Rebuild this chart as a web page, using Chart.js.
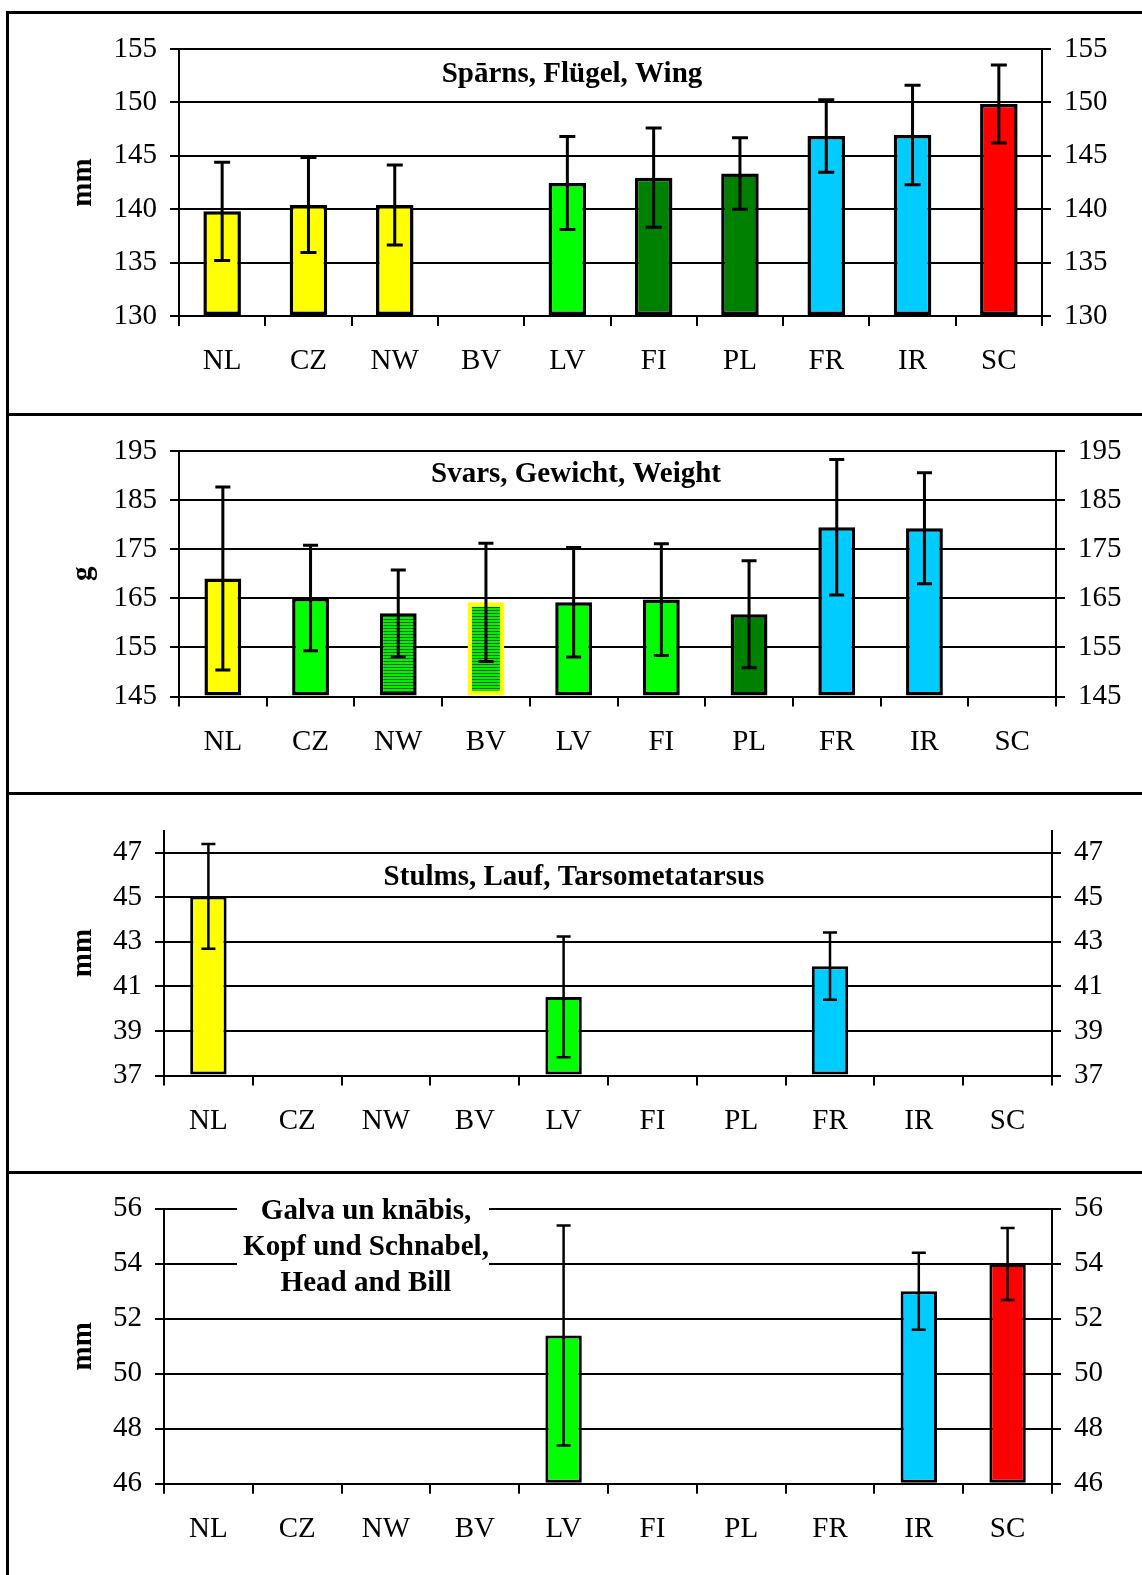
<!DOCTYPE html>
<html>
<head>
<meta charset="utf-8">
<title>Body measurements by population</title>
<script src="https://cdn.jsdelivr.net/npm/chart.js@4.4.1/dist/chart.umd.min.js"></script>
<style>
  html, body { margin: 0; padding: 0; background: #fff; }
  #page { position: relative; width: 1142px; height: 1575px; overflow: hidden; background: #fff; }
  #page canvas { position: absolute; left: 0; }
  .rule { position: absolute; background: #000; }
</style>
</head>
<body>
<div id="page">
  <canvas id="wing" width="1142" height="398" style="top:15px"></canvas>
  <canvas id="weight" width="1142" height="377" style="top:416px"></canvas>
  <canvas id="tarsus" width="1142" height="375" style="top:796px"></canvas>
  <canvas id="head" width="1142" height="401" style="top:1174px"></canvas>
  <div class="rule" style="left:6px;top:11px;width:1136px;height:3px"></div>
  <div class="rule" style="left:6px;top:413px;width:1136px;height:3px"></div>
  <div class="rule" style="left:6px;top:792px;width:1136px;height:3px"></div>
  <div class="rule" style="left:6px;top:1171px;width:1136px;height:3px"></div>
  <div class="rule" style="left:6px;top:11px;width:3px;height:1564px"></div>
</div>
<script>
// Populations
const categories = ['NL', 'CZ', 'NW', 'BV', 'LV', 'FI', 'PL', 'FR', 'IR', 'SC'];

// Wing length, mm (mean and standard deviation)
const wingMean = [139.8, 140.4, 140.4, null, 142.45, 142.95, 143.35, 146.85, 146.95, 149.85];
const wingSD   = [4.6, 4.45, 3.75, null, 4.35, 4.65, 3.35, 3.4, 4.65, 3.65];
const wingTicks = [130, 135, 140, 145, 150, 155];

// Body weight, g
const weightMean = [169.05, 165.1, 161.95, 164.2, 164.2, 164.75, 161.75, 179.5, 179.3, null];
const weightSD   = [18.65, 10.75, 8.85, 12.05, 11.15, 11.4, 10.9, 13.8, 11.3, null];
const weightTicks = [145, 155, 165, 175, 185, 195];

// Tarsometatarsus, mm
const tarsusMean = [45.04, null, null, null, 40.53, null, null, 41.91, null, null];
const tarsusSD   = [2.35, null, null, null, 2.71, null, null, 1.51, null, null];
const tarsusTicks = [37, 39, 41, 43, 45, 47];

// Head and bill, mm
const headMean = [null, null, null, null, 51.39, null, null, null, 53.0, 53.99];
const headSD   = [null, null, null, null, 4.0, null, null, null, 1.4, 1.31];
const headTicks = [46, 48, 50, 52, 54, 56];

// ---- styling ----
const SERIF = '"Liberation Serif", "Times New Roman", Times, serif';
const YELLOW = '#ffff00', LGREEN = '#00ff00', DGREEN = '#008000', CYAN = '#00ccff', RED = '#ff0000';

function stripes() {
  const c = document.createElement('canvas');
  c.width = 4; c.height = 3;
  const g = c.getContext('2d');
  g.fillStyle = '#00f000'; g.fillRect(0, 0, 4, 3);
  g.fillStyle = '#006400'; g.fillRect(0, 2, 4, 1);
  return g.createPattern(c, 'repeat');
}
const HATCH = stripes();

const wingFill   = [YELLOW, YELLOW, YELLOW, YELLOW, LGREEN, DGREEN, DGREEN, CYAN, CYAN, RED];
const weightFill = [YELLOW, LGREEN, HATCH, HATCH, LGREEN, LGREEN, DGREEN, CYAN, CYAN, RED];
const weightEdge = ['#000', '#000', '#000', YELLOW, '#000', '#000', '#000', '#000', '#000', '#000'];
const weightEdgeW = [3.5, 3.5, 3.5, 4.5, 3.5, 3.5, 3.5, 3.5, 3.5, 3.5];
const tarsusFill = [YELLOW, '#fff', '#fff', '#fff', LGREEN, '#fff', '#fff', CYAN, '#fff', '#fff'];
const headFill   = ['#fff', '#fff', '#fff', '#fff', LGREEN, '#fff', '#fff', CYAN, CYAN, RED];

// Error whiskers (mean ± SD) drawn on top of the bars
const errorBars = {
  id: 'errorBars',
  afterDatasetsDraw(chart, args, opts) {
    const meta = chart.getDatasetMeta(0);
    const ys = chart.scales.y;
    const data = chart.data.datasets[0].data;
    const ctx = chart.ctx;
    ctx.save();
    ctx.strokeStyle = '#000';
    ctx.lineWidth = opts.lineWidth;
    ctx.lineCap = 'butt';
    data.forEach((m, i) => {
      const sd = opts.sd[i];
      if (m == null || sd == null) return;
      const x = meta.data[i].x;
      const yHi = ys.getPixelForValue(m + sd);
      const yLo = ys.getPixelForValue(m - sd);
      ctx.beginPath();
      ctx.moveTo(x, yHi); ctx.lineTo(x, yLo);
      ctx.moveTo(x - opts.cap, yHi); ctx.lineTo(x + opts.cap, yHi);
      ctx.moveTo(x - opts.cap, yLo); ctx.lineTo(x + opts.cap, yLo);
      ctx.stroke();
    });
    ctx.restore();
  }
};

// Panel caption inside the plot area
const caption = {
  id: 'caption',
  beforeDatasetsDraw(chart, args, opts) {
    const ctx = chart.ctx;
    ctx.save();
    if (opts.box) {
      ctx.fillStyle = '#fff';
      ctx.fillRect(opts.box[0], opts.box[1], opts.box[2], opts.box[3]);
    }
    ctx.fillStyle = '#000';
    ctx.font = 'bold 29px ' + SERIF;
    ctx.textAlign = 'center';
    ctx.textBaseline = 'middle';
    opts.lines.forEach((t, k) => ctx.fillText(t, opts.x, opts.y + k * opts.step));
    ctx.restore();
  }
};

function panel(id, o) {
  const tickFont = { family: SERIF, size: 29 };
  const setTicks = s => { s.ticks = o.ticks.map(v => ({ value: v })); };
  const yCommon = {
    type: 'linear', min: o.min, max: o.max,
    afterBuildTicks: setTicks,
    border: { display: true, color: '#000', width: 2 },
    ticks: { font: tickFont, color: '#000', padding: 13 }
  };
  new Chart(document.getElementById(id), {
    type: 'bar',
    data: {
      labels: categories,
      datasets: [{
        data: o.mean,
        base: o.min,
        backgroundColor: o.fill,
        borderColor: o.edge || '#000',
        borderWidth: o.barEdge,
        borderSkipped: false,
        barPercentage: o.barPct,
        categoryPercentage: 1
      }]
    },
    options: {
      responsive: false,
      animation: false,
      events: [],
      layout: { padding: { top: o.padTop, left: 0, right: 0, bottom: 0 } },
      plugins: {
        legend: { display: false },
        tooltip: { enabled: false },
        errorBars: { sd: o.sd, lineWidth: o.errW, cap: o.cap },
        caption: o.caption
      },
      scales: {
        x: {
          type: 'category', offset: true,
          grid: { offset: true, drawOnChartArea: false, drawTicks: true, tickLength: 10, color: '#000', lineWidth: 2 },
          border: { display: true, color: '#000', width: 2 },
          ticks: { font: tickFont, color: '#000', padding: 18, maxRotation: 0, autoSkip: false },
          afterFit: s => { s.height = o.xH; }
        },
        y: Object.assign({}, yCommon, {
          position: 'left',
          grid: { color: '#000', lineWidth: 2, tickLength: 9, drawTicks: true },
          title: { display: true, text: o.unit, color: '#000',
                   font: { family: SERIF, size: 29, weight: 'bold' }, padding: { top: 66, bottom: 0 } },
          afterFit: s => { s.width = o.left; }
        }),
        y2: Object.assign({}, yCommon, {
          position: 'right',
          grid: { drawOnChartArea: false, color: '#000', lineWidth: 2, tickLength: 9, drawTicks: true },
          afterFit: s => { s.width = 1142 - o.right; }
        })
      }
    },
    plugins: [errorBars, caption]
  });
}

panel('wing', {
  mean: wingMean, sd: wingSD, ticks: wingTicks, min: 130, max: 155, unit: 'mm',
  fill: wingFill, barEdge: 3.5, errW: 3, cap: 8, barPct: 0.435,
  left: 179, right: 1042, padTop: 34, xH: 97,
  caption: { lines: ['Spārns, Flügel, Wing'], x: 572, y: 59.5, step: 0 }
});

panel('weight', {
  mean: weightMean, sd: weightSD, ticks: weightTicks, min: 145, max: 195, unit: 'g',
  fill: weightFill, edge: weightEdge, barEdge: weightEdgeW, errW: 3, cap: 7.5, barPct: 0.42,
  left: 179, right: 1056, padTop: 35.2, xH: 96.5,
  caption: { lines: ['Svars, Gewicht, Weight'], x: 576, y: 59, step: 0 }
});

panel('tarsus', {
  mean: tarsusMean, sd: tarsusSD, ticks: tarsusTicks, min: 37, max: 48, unit: 'mm',
  fill: tarsusFill, barEdge: 3, errW: 2.5, cap: 7, barPct: 0.41,
  left: 164, right: 1052, padTop: 34.5, xH: 95.5,
  caption: { lines: ['Stulms, Lauf, Tarsometatarsus'], x: 574, y: 82, step: 0 }
});

panel('head', {
  mean: headMean, sd: headSD, ticks: headTicks, min: 46, max: 56, unit: 'mm',
  fill: headFill, barEdge: 3, errW: 2.5, cap: 7, barPct: 0.41,
  left: 164, right: 1052, padTop: 34.8, xH: 91.2,
  caption: { lines: ['Galva un knābis,', 'Kopf und Schnabel,', 'Head and Bill'],
             x: 366, y: 38, step: 36, box: [237, 18, 252, 108] }
});
</script>
</body>
</html>
